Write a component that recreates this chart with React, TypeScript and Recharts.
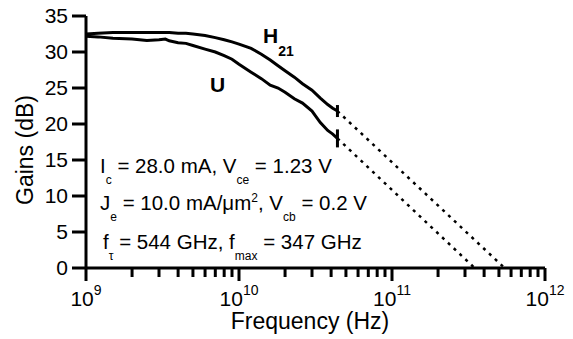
import { CartesianGrid, Customized, Line, LineChart, XAxis, YAxis } from "recharts";

// frequencies in GHz for the measured curves
const freqGHz = [1.0, 1.2, 1.5, 2, 2.5, 3, 3.3, 3.5, 4, 4.5, 5, 6, 7, 8, 9, 10, 12, 14, 16, 18, 20, 23, 26, 30, 34, 38, 41, 44];
const h21 = [32.5, 32.6, 32.7, 32.7, 32.7, 32.7, 32.7, 32.7, 32.6, 32.6, 32.5, 32.3, 32.0, 31.7, 31.4, 31.1, 30.5, 29.7, 28.9, 28.1, 27.4, 26.5, 25.6, 24.7, 23.6, 22.7, 22.2, 21.8];
const uGain = [32.2, 32.1, 31.9, 31.8, 31.6, 31.7, 31.8, 31.55, 31.3, 31.2, 30.9, 30.4, 30.0, 29.5, 29.0, 28.3, 27.2, 26.3, 25.4, 25.0, 24.4, 23.5, 22.9, 21.8, 20.2, 19.1, 18.6, 18.0];

// -20 dB/decade extrapolations to fT and fmax
const h21Extrap = [
  { f: 44e9, g: 21.8 },
  { f: 544e9, g: 0 },
];
const uExtrap = [
  { f: 44e9, g: 18.0 },
  { f: 347e9, g: 0 },
];

const yTicks = [0, 5, 10, 15, 20, 25, 30, 35];
const decades = [9, 10, 11];
const minorSteps = [1, 2, 3, 4, 5, 6, 7, 8, 9];
const freqTicks = [...decades.flatMap((d) => minorSteps.map((m) => m * Math.pow(10, d))), 1e12];

const h21Data = freqGHz.map((f, i) => ({ f: f * 1e9, g: h21[i] }));
const uData = freqGHz.map((f, i) => ({ f: f * 1e9, g: uGain[i] }));

const FONT = "'Liberation Sans', Arial, sans-serif";

function FreqTick(props: any) {
  const { x, y, payload } = props;
  const lg = Math.log10(payload.value);
  const exp = Math.round(lg);
  const major = Math.abs(lg - exp) < 1e-6;
  return (
    <g>
      <line x1={x} x2={x} y1={y} y2={y + (major ? 13 : 9)} stroke="#000" strokeWidth={3} />
      {major && (
        <text x={x} y={y + 38} textAnchor="middle" fontSize={21} fill="#000" fontFamily={FONT}>
          10
          <tspan dy={-11} fontSize={14}>
            {exp}
          </tspan>
        </text>
      )}
    </g>
  );
}

function endMark(len: number, last: number) {
  return (props: any) => {
    const { cx, cy, index } = props;
    if (index !== last) return <g key={`d${index}`} />;
    return (
      <line key={`d${index}`} x1={cx} x2={cx} y1={cy - len / 2} y2={cy + len / 2} stroke="#000" strokeWidth={3} />
    );
  };
}

function Annotations() {
  const sub = { fontSize: 12 };
  return (
    <g fontFamily={FONT} fill="#000">
      <text x={26} y={150} transform="rotate(-90 26 150)" dy={7} textAnchor="middle" fontSize={23}>
        Gains (dB)
      </text>
      <text x={310} y={329} textAnchor="middle" fontSize={23}>
        Frequency (Hz)
      </text>
      <text x={263} y={43} fontSize={21} fontWeight="bold">
        H
        <tspan dy={13} fontSize={14}>
          21
        </tspan>
      </text>
      <text x={210} y={92} fontSize={21} fontWeight="bold">
        U
      </text>
      <text x={100} y={173} fontSize={20.5}>
        I<tspan dy={11} {...sub}>c</tspan>
        <tspan dy={-11}> = 28.0 mA, V</tspan>
        <tspan dy={11} {...sub}>ce</tspan>
        <tspan dy={-11}> = 1.23 V</tspan>
      </text>
      <text x={100} y={210} fontSize={20.5}>
        J<tspan dy={11} {...sub}>e</tspan>
        <tspan dy={-11}> = 10.0 mA/μm</tspan>
        <tspan dy={-8} {...sub}>2</tspan>
        <tspan dy={8}>, V</tspan>
        <tspan dy={11} {...sub}>cb</tspan>
        <tspan dy={-11}> = 0.2 V</tspan>
      </text>
      <text x={103} y={249} fontSize={20.5}>
        f<tspan dy={11} {...sub}>τ</tspan>
        <tspan dy={-11}> = 544 GHz, f</tspan>
        <tspan dy={11} {...sub}>max</tspan>
        <tspan dy={-11}> = 347 GHz</tspan>
      </text>
    </g>
  );
}

export default function App() {
  return (
    <div style={{ position: "absolute", left: 0, top: 0, background: "#fff" }}>
      <LineChart
        width={573}
        height={339}
        margin={{ top: 16, right: 28, bottom: 0, left: 0 }}
        style={{ fontFamily: FONT }}
      >
        <CartesianGrid stroke="none" />
        <XAxis
          type="number"
          dataKey="f"
          scale="log"
          domain={[1e9, 1e12]}
          allowDataOverflow
          ticks={freqTicks}
          interval={0}
          height={71}
          tickSize={0}
          tickMargin={0}
          tickLine={false}
          axisLine={{ stroke: "#000", strokeWidth: 3 }}
          tick={<FreqTick />}
        />
        <YAxis
          type="number"
          domain={[0, 35]}
          ticks={yTicks}
          interval={0}
          width={86}
          tickSize={14}
          tickMargin={4}
          tickLine={{ stroke: "#000", strokeWidth: 3 }}
          axisLine={{ stroke: "#000", strokeWidth: 3 }}
          tick={{ fontSize: 21, fill: "#000", fontFamily: FONT }}
        />
        <Line
          data={h21Data}
          dataKey="g"
          type="linear"
          stroke="#000"
          strokeWidth={3}
          dot={endMark(12, h21Data.length - 1)}
          activeDot={false}
          isAnimationActive={false}
        />
        <Line
          data={uData}
          dataKey="g"
          type="linear"
          stroke="#000"
          strokeWidth={3}
          dot={endMark(18, uData.length - 1)}
          activeDot={false}
          isAnimationActive={false}
        />
        <Line
          data={h21Extrap}
          dataKey="g"
          type="linear"
          stroke="#000"
          strokeWidth={2.5}
          strokeDasharray="3 5"
          dot={false}
          activeDot={false}
          isAnimationActive={false}
        />
        <Line
          data={uExtrap}
          dataKey="g"
          type="linear"
          stroke="#000"
          strokeWidth={2.5}
          strokeDasharray="3 5"
          dot={false}
          activeDot={false}
          isAnimationActive={false}
        />
        <Customized component={Annotations} />
      </LineChart>
    </div>
  );
}
